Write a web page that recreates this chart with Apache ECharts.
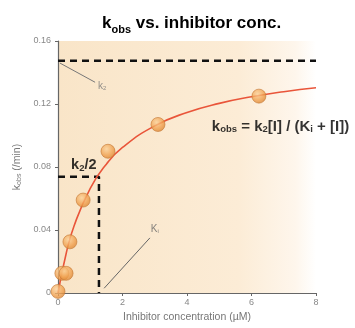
<!DOCTYPE html>
<html>
<head>
<meta charset="utf-8">
<script src="https://cdn.jsdelivr.net/npm/echarts@6/dist/echarts.min.js"></script>
<style>
  html, body { margin: 0; padding: 0; background: #fff; }
  #chart { width: 355px; height: 328px; }
</style>
</head>
<body>
<div id="chart"></div>
<script>
// measured points (inhibitor conc in uM, kobs in /min)
var concData = [0, 0.12, 0.25, 0.37, 0.78, 1.55, 3.1, 6.23];
var kobsData = [0.001, 0.0125, 0.0125, 0.0325, 0.059, 0.09, 0.107, 0.125];

// fitted curve
var curveX = [0, 0.25, 0.5, 1, 1.5, 2, 3, 4, 5, 6, 7, 8];
var curveY = [0, 0.0248, 0.0427, 0.0665, 0.0818, 0.0924, 0.1061, 0.1146, 0.1204, 0.1246, 0.1278, 0.1303];

// constants
var k2 = 0.1475;
var Ki = 1.27;

// axis ticks
var xTicks = [0, 2, 4, 6, 8];
var yTicks = [0, 0.04, 0.08, 0.12, 0.16];

// pointer lines for the k2 / Ki call-outs (data space)
var k2Pointer = [[0.06, 0.146], [1.15, 0.1338]];
var kiPointer = [[1.43, 0.003], [2.85, 0.035]];

const font = "Liberation Sans";
const chart = echarts.init(document.getElementById("chart"));

const pairs = (xs, ys) => xs.map((x, i) => [x, ys[i]]);
const dashStyle = { color: "#111", width: 2.5, type: [7, 5] };

chart.setOption({
  animation: false,
  title: {
    text: "{k|k}{sub|obs}{k| vs. inhibitor conc.}",
    left: 97,
    top: 6,
    textStyle: {
      rich: {
        k: { fontFamily: font, fontSize: 17, fontWeight: "bold", color: "#000", lineHeight: 24 },
        sub: { fontFamily: font, fontSize: 11, fontWeight: "bold", color: "#000", lineHeight: 24, verticalAlign: "bottom", padding: [8, 0, 0, 0] }
      }
    }
  },
  grid: {
    left: 58,
    right: 39,
    top: 41,
    bottom: 31,
    show: true,
    borderWidth: 0,
    backgroundColor: new echarts.graphic.LinearGradient(0, 0, 1, 0, [
      { offset: 0, color: "#f9e5c8" },
      { offset: 0.7, color: "#fcecd6" },
      { offset: 0.92, color: "#fef6ec" },
      { offset: 1, color: "#ffffff" }
    ])
  },
  xAxis: {
    type: "value",
    min: xTicks[0],
    max: xTicks[xTicks.length - 1],
    interval: 2,
    name: "Inhibitor concentration (µM)",
    nameLocation: "middle",
    nameGap: 19,
    nameTextStyle: { fontFamily: font, fontSize: 10.5, color: "#777" },
    axisLine: { lineStyle: { color: "#666", width: 1.2 } },
    axisTick: { length: 3, lineStyle: { color: "#666" } },
    axisLabel: { fontFamily: font, fontSize: 9, color: "#888", margin: 5 },
    splitLine: { show: false }
  },
  yAxis: {
    type: "value",
    min: yTicks[0],
    max: yTicks[yTicks.length - 1],
    interval: 0.04,
    name: "{k|k}{sub|obs}{k| (/min)}",
    nameLocation: "middle",
    nameGap: 33,
    nameTextStyle: {
      rich: {
        k: { fontFamily: font, fontSize: 10.5, color: "#777" },
        sub: { fontFamily: font, fontSize: 7, color: "#777", verticalAlign: "bottom", padding: [4, 0, 0, 0] }
      }
    },
    axisLine: { show: true, lineStyle: { color: "#666", width: 1.2 } },
    axisTick: { show: true, length: 3, lineStyle: { color: "#666" } },
    axisLabel: {
      fontFamily: font, fontSize: 9, color: "#888", margin: 7,
      formatter: v => (v === 0 ? "0" : v.toFixed(2))
    },
    splitLine: { show: false }
  },
  series: [
    {
      // k2 asymptote
      type: "line",
      data: [[xTicks[0], k2], [xTicks[xTicks.length - 1], k2]],
      symbol: "none",
      lineStyle: dashStyle,
      z: 3
    },
    {
      // k2/2 level up to Ki, then down to the x axis
      type: "line",
      data: [[0, k2 / 2], [Ki, k2 / 2], [Ki, 0]],
      symbol: "none",
      lineStyle: dashStyle,
      z: 3
    },
    {
      type: "line",
      data: k2Pointer,
      symbol: "none",
      lineStyle: { color: "#777", width: 1 },
      z: 3
    },
    {
      type: "line",
      data: kiPointer,
      symbol: "none",
      lineStyle: { color: "#666", width: 1 },
      z: 3
    },
    {
      // fitted hyperbola
      type: "line",
      data: pairs(curveX, curveY),
      smooth: true,
      symbol: "none",
      lineStyle: { color: "#e9553a", width: 1.6 },
      z: 4
    },
    {
      type: "scatter",
      data: pairs(concData, kobsData),
      symbolSize: 14,
      itemStyle: {
        color: new echarts.graphic.RadialGradient(0.4, 0.35, 0.7, [
          { offset: 0, color: "#fbd29a" },
          { offset: 0.6, color: "#f0a150" },
          { offset: 1, color: "#d9822f" }
        ]),
        borderColor: "#c47a38",
        borderWidth: 0.8
      },
      z: 5
    },
    {
      // text call-outs
      type: "scatter",
      symbol: "circle",
      symbolSize: 1,
      itemStyle: { color: "rgba(0,0,0,0)" },
      silent: true,
      z: 6,
      data: [
        {
          value: [Ki + 0.1, k2 - 0.0165],
          label: {
            show: true, position: "inside",
            formatter: "{k|k}{sub|2}",
            rich: {
              k: { fontFamily: font, fontSize: 10, color: "#777" },
              sub: { fontFamily: font, fontSize: 6, color: "#777", verticalAlign: "bottom", padding: [4, 0, 0, 0] }
            }
          }
        },
        {
          value: [0.8, k2 / 2 + 0.0075],
          label: {
            show: true, position: "inside",
            formatter: "{k|k}{sub|2}{k|/2}",
            rich: {
              k: { fontFamily: font, fontSize: 14.5, fontWeight: "bold", color: "#000" },
              sub: { fontFamily: font, fontSize: 9.5, fontWeight: "bold", color: "#000", verticalAlign: "bottom", padding: [6, 0, 0, 0] }
            }
          }
        },
        {
          value: [3.0, 0.0405],
          label: {
            show: true, position: "inside",
            formatter: "{k|K}{sub|i}",
            rich: {
              k: { fontFamily: font, fontSize: 10, color: "#666" },
              sub: { fontFamily: font, fontSize: 6, color: "#666", verticalAlign: "bottom", padding: [4, 0, 0, 0] }
            }
          }
        },
        {
          value: [6.9, 0.1055],
          label: {
            show: true, position: "inside",
            formatter: "{k|k}{sub|obs}{k| = k}{sub|2}{k|[I] / (K}{sub|i}{k| + [I])}",
            rich: {
              k: { fontFamily: font, fontSize: 15, fontWeight: "bold", color: "#000" },
              sub: { fontFamily: font, fontSize: 9.5, fontWeight: "bold", color: "#000", verticalAlign: "bottom", padding: [6, 0, 0, 0] }
            }
          }
        }
      ]
    }
  ]
});
</script>
</body>
</html>
